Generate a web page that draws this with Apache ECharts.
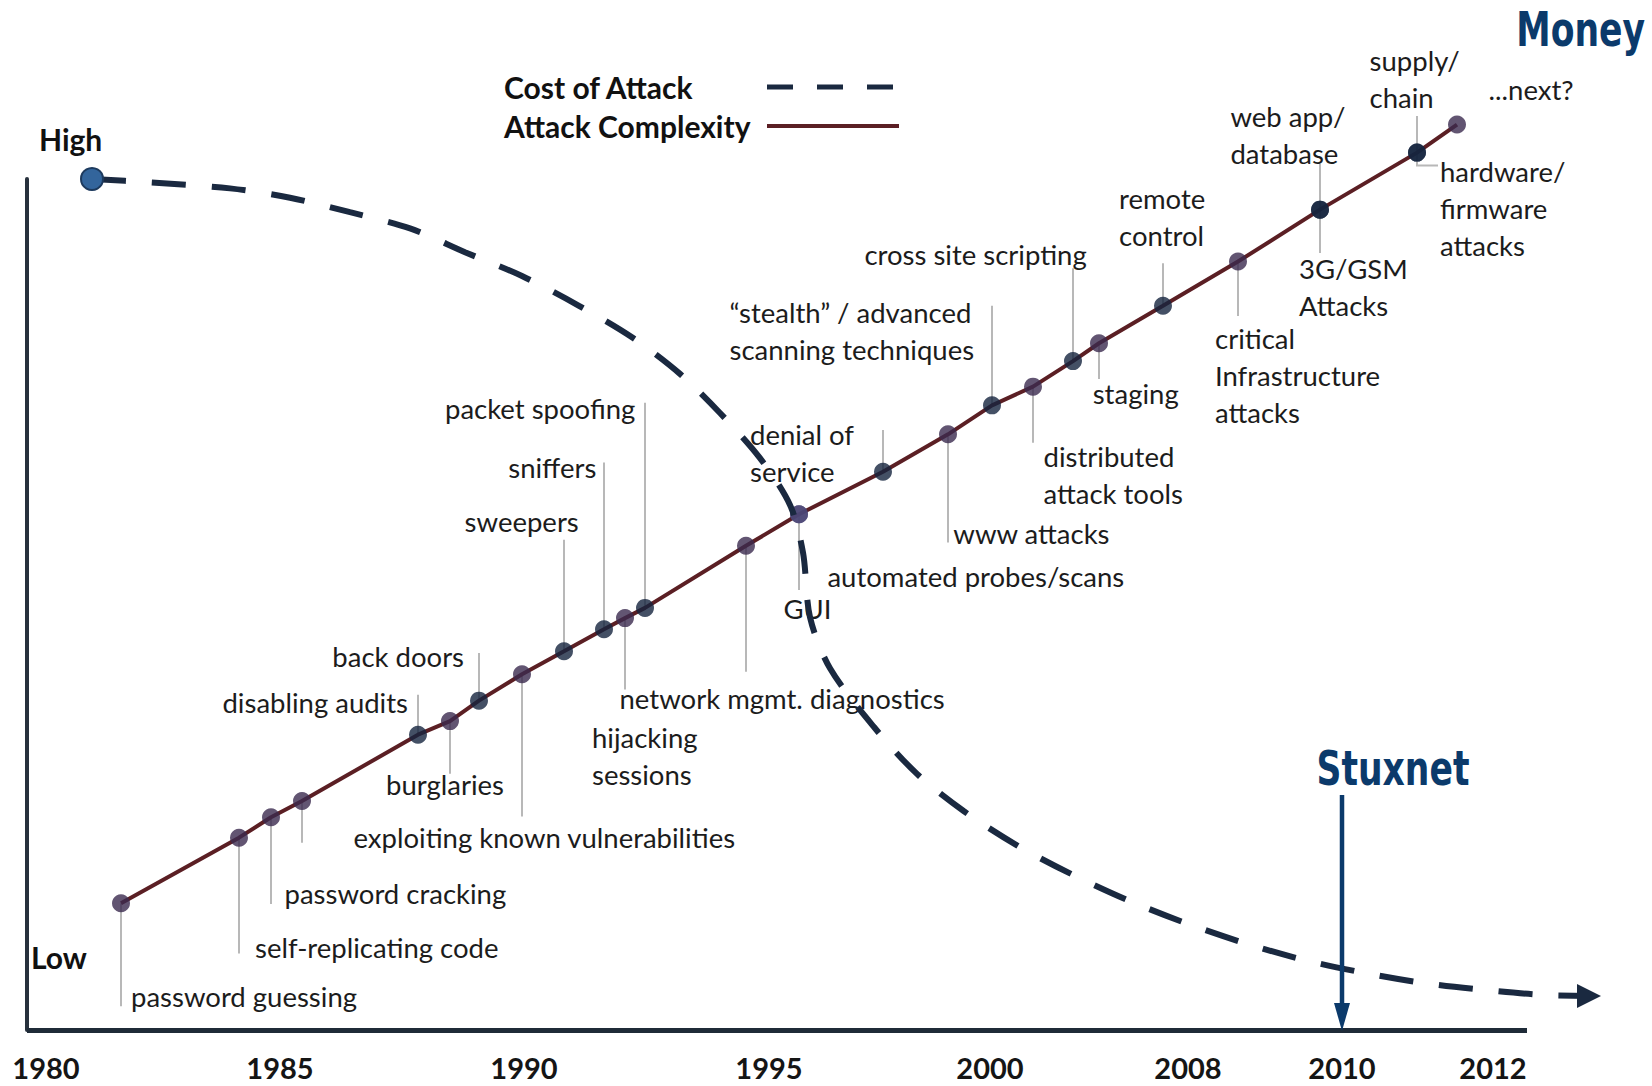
<!DOCTYPE html>
<html>
<head>
<meta charset="utf-8">
<title>Cost of Attack vs. Attack Complexity</title>
<script src="https://cdn.jsdelivr.net/npm/echarts@6/dist/echarts.min.js"></script>
<style>
  html, body { margin: 0; padding: 0; background: #ffffff; }
  #chart { width: 1652px; height: 1086px; }
</style>
</head>
<body>
<div id="chart"></div>
<script>
// Timeline axis: where each year sits along the horizontal axis, and its label
const tickYears = ['1980', '1985', '1990', '1995', '2000', '2008', '2010', '2012'];
const tickPos = [1.9, 25.3, 49.7, 74.2, 96.3, 116.1, 131.5, 146.6];
// visible extent of the time axis line
const axisExtent = [0, 150];

// Attack complexity milestones (timeline position, complexity level)
const eventNames = [
  'password guessing', 'self-replicating code', 'password cracking', '',
  'disabling audits', 'burglaries', 'back doors', 'exploiting known vulnerabilities',
  'sweepers', 'sniffers', 'hijacking\nsessions', 'packet spoofing',
  'network mgmt. diagnostics', 'GUI', 'automated probes/scans', 'denial of\nservice',
  'www attacks', '\u201cstealth\u201d / advanced\nscanning techniques', 'distributed\nattack tools',
  'cross site scripting', 'staging', 'remote\ncontrol', 'critical\nInfrastructure\nattacks',
  'web app/\ndatabase', '3G/GSM\nAttacks', 'supply/\nchain', 'hardware/\nfirmware\nattacks', '...next?'
];
const eventX = [9.4, 21.2, 24.4, 27.5, 39.1, 42.3, 45.2, 49.5, 53.7, 57.7, 59.8, 61.8, 71.9, 77.2,
  77.2, 85.6, 92.1, 96.5, 100.6, 104.6, 107.2, 113.6, 121.1, 129.3, 129.3, 139.0, 139.0, 143.0];
const eventY = [14.9, 22.6, 25.0, 26.9, 34.7, 36.3, 38.7, 41.8, 44.5, 47.1, 48.4, 49.6, 56.9, 60.6,
  60.6, 65.6, 70.0, 73.4, 75.6, 78.6, 80.7, 85.1, 90.3, 96.4, 96.4, 103.1, 103.1, 106.4];

// Cost of attack trend
const costX = [6.5, 12.3, 20.3, 26.3, 32.3, 38.3, 43.8, 49.5, 55.2, 60.5, 65.3, 69.3, 73.3, 76.3,
  77.6, 78.3, 80.3, 84.7, 89.0, 93.7, 99.0, 104.3, 110.0, 115.8, 121.8, 127.8, 133.8, 139.8, 145.8, 151.8, 156.2];
const costY = [100.0, 99.6, 98.9, 97.8, 96.1, 94.2, 91.4, 88.6, 85.1, 81.4, 77.1, 72.5, 67.2, 61.7,
  56.1, 48.5, 42.5, 35.6, 30.1, 25.7, 21.7, 18.4, 15.3, 12.6, 10.2, 8.2, 6.7, 5.5, 4.7, 4.1, 4.0];

// Stuxnet marker on the timeline
const stuxnetX = [131.5];
const stuxnetTop = [27.6];

// ---- annotation layout (callout leaders and label placement) ----
const leaderEndY = [2.8, 9.0, 14.8, 22.0, 39.4, 30.1, 44.3, 25.1, 57.6, 66.7, 40.0, 73.7, 42.1, 51.7,
  null, 70.5, 57.3, 85.1, 69.0, 89.5, 76.5, 90.1, 83.9, 101.8, 91.3, 107.4, 101.6, null];
const leaderElbowX = { 26: 141.1 };
// [dx, dy of first text line centre, align] relative to the leader end (or the marker)
const labelPlace = [
  [10, -10, 'left'], [16, -5.5, 'left'], [13.5, -11, 'left'], null,
  [-10, 8, 'right'], [-5, 11, 'center'], [-15, 3, 'right'], [-168.5, 21.5, 'left'],
  [-99.4, -18.5, 'left'], [-7.7, 5, 'right'], [-33, 47.5, 'left'], [-9.7, 6, 'right'],
  [-126.5, 26.5, 'left'], [8.4, 18, 'center'], [28.4, 61.8, 'left'], [-133, 4, 'left'],
  [5.3, -8.6, 'left'], [-262.5, 6.4, 'left'], [10.5, 13.5, 'left'], [-208.6, -13.7, 'left'],
  [-6.3, 14.7, 'left'], [-44, -64.4, 'left'], [-23, 22, 'left'], [-89.6, -47.4, 'left'],
  [-21, 15.8, 'left'], [-47.4, -55.9, 'left'], [2, 6.3, 'left'], [31.6, -34.7, 'left']
];
const markerTone = ['p', 'p', 'p', 'p', 'n', 'p', 'n', 'p', 'n', 'n', 'p', 'n', 'p', 'g',
  'g', 'n', 'p', 'n', 'p', 'n', 'p', 'n', 'p', 'n', 'n', 'n', 'n', 'p'];
const toneColor = { p: '#3b2a4f', n: '#15243f', g: '#4b4676' };

const LABEL_FONT = 'Lato, "Open Sans", sans-serif';
const LABEL_SIZE = 27.5;
const LINE_H = 37;
const NARROW = '"Liberation Sans Narrow", "DejaVu Sans Condensed", "Liberation Sans", sans-serif';
const NAVY = '#0b3a6b';

const chart = echarts.init(document.getElementById('chart'), null, { renderer: 'svg' });

const eventRows = eventX.map((x, i) => [x, eventY[i], i]);

const costData = costX.map((x, i) => {
  const item = { value: [x, costY[i]] };
  if (i === 0) {
    item.symbol = 'circle';
    item.symbolSize = 22;
    item.itemStyle = { color: '#33659c', borderColor: '#1d3a5e', borderWidth: 2 };
  } else if (i === costX.length - 1) {
    item.symbol = 'triangle';
    item.symbolSize = [24, 24];
    item.symbolRotate = -90;
    item.itemStyle = { color: '#1a2940' };
  }
  return item;
});

const option = {
  backgroundColor: '#ffffff',
  animation: false,
  graphic: [
    {
      type: 'text',
      x: 1645,
      y: 29,
      scaleX: 0.8,
      silent: true,
      style: { text: 'Money', fill: NAVY, fontSize: 48, fontWeight: 'bold', fontFamily: NARROW, align: 'right', verticalAlign: 'middle' }
    }
  ],
  legend: {
    orient: 'vertical',
    align: 'right',
    left: 504,
    top: 72,
    padding: 0,
    itemGap: 9,
    itemWidth: 132,
    itemHeight: 14,
    selectedMode: false,
    formatter: (n) => '{t|' + n + '}',
    textStyle: {
      rich: {
        t: { width: 258, align: 'left', fontSize: 30, fontWeight: 'bold', fontFamily: LABEL_FONT, color: '#111111', lineHeight: 33 }
      }
    },
    itemStyle: { opacity: 0 },
    data: [
      { name: 'Cost of Attack', lineStyle: { type: [26, 24], width: 5, color: '#1a2940' } },
      { name: 'Attack Complexity', lineStyle: { type: 'solid', width: 4, color: '#5b1f24' } }
    ]
  },
  // the plot area runs a little past the end of the time axis so the trend arrow is not cut
  grid: { left: 27, right: 42, top: 179, bottom: 56, containLabel: false, outerBoundsMode: 'none' },
  xAxis: {
    type: 'value',
    min: 0,
    max: 158.3,
    axisLine: { show: false },
    axisTick: { show: false },
    splitLine: { show: false },
    axisLabel: {
      customValues: tickPos,
      formatter: (v) => tickYears[tickPos.indexOf(v)] || '',
      margin: 23,
      fontSize: 29,
      fontWeight: 'bold',
      fontFamily: LABEL_FONT,
      color: '#151515'
    }
  },
  yAxis: {
    type: 'value',
    min: 0,
    max: 100,
    name: 'High',
    nameLocation: 'end',
    nameGap: 40,
    nameTextStyle: { fontSize: 30, fontWeight: 'bold', fontFamily: LABEL_FONT, color: '#111111', align: 'left', verticalAlign: 'middle', padding: [0, 0, 0, 12] },
    axisLine: { show: true, lineStyle: { color: '#27313d', width: 4 } },
    axisTick: { show: false },
    splitLine: { show: false },
    axisLabel: {
      customValues: [8.6],
      formatter: () => 'Low',
      inside: true,
      margin: 4,
      fontSize: 30,
      fontWeight: 'bold',
      fontFamily: LABEL_FONT,
      color: '#111111'
    }
  },
  series: [
    {
      // callout leaders and milestone labels
      type: 'custom',
      z: 1,
      silent: true,
      clip: false,
      data: eventRows,
      encode: { x: 0, y: 1 },
      renderItem: (params, api) => {
        const i = api.value(2);
        const x = api.value(0);
        const p = api.coord([x, api.value(1)]);
        const children = [];
        let anchor = p;
        const endY = leaderEndY[i];
        if (endY != null) {
          const e = api.coord([x, endY]);
          if (leaderElbowX[i] != null) {
            const ex = api.coord([leaderElbowX[i], endY]);
            children.push({ type: 'polyline', shape: { points: [p, e, ex] }, style: { stroke: '#b8b8b8', lineWidth: 2, fill: null } });
            anchor = ex;
          } else {
            children.push({ type: 'line', shape: { x1: p[0], y1: p[1], x2: e[0], y2: e[1] }, style: { stroke: '#b8b8b8', lineWidth: 2 } });
            anchor = e;
          }
        }
        const place = labelPlace[i];
        if (place && eventNames[i]) {
          children.push({
            type: 'text',
            x: anchor[0] + place[0],
            y: anchor[1] + place[1] - LINE_H / 2,
            style: {
              text: eventNames[i],
              fill: '#1c1c1c',
              fontSize: LABEL_SIZE,
              fontFamily: LABEL_FONT,
              lineHeight: LINE_H,
              align: place[2],
              verticalAlign: 'top'
            }
          });
        }
        return { type: 'group', children: children };
      }
    },
    {
      name: 'Attack Complexity',
      type: 'line',
      z: 2,
      clip: false,
      symbol: 'none',
      data: eventRows.map((r) => [r[0], r[1]]),
      lineStyle: { color: '#5b1f24', width: 4 },
      // time axis baseline, drawn across the axis extent only
      markLine: {
        silent: true,
        symbol: 'none',
        label: { show: false },
        lineStyle: { color: '#1f2b38', width: 5, type: 'solid' },
        data: [[{ coord: [axisExtent[0], 0] }, { coord: [axisExtent[1], 0] }]]
      }
    },
    {
      // milestone markers
      type: 'scatter',
      z: 3,
      clip: false,
      symbolSize: 18,
      data: eventRows.map((r) => ({ value: [r[0], r[1]], itemStyle: { color: toneColor[markerTone[r[2]]] } }))
    },
    {
      name: 'Cost of Attack',
      type: 'line',
      z: 4,
      clip: false,
      smooth: 0.3,
      symbol: 'none',
      showSymbol: true,
      data: costData,
      lineStyle: { color: '#1a2940', width: 6, type: [34, 26] }
    },
    {
      // Stuxnet call-out arrow
      type: 'custom',
      z: 5,
      silent: true,
      clip: false,
      data: stuxnetX.map((x, i) => [x, stuxnetTop[i]]),
      encode: { x: 0, y: 1 },
      renderItem: (params, api) => {
        const x = api.value(0);
        const top = api.coord([x, api.value(1)]);
        const base = api.coord([x, 0]);
        return {
          type: 'group',
          children: [
            { type: 'line', shape: { x1: top[0], y1: top[1], x2: base[0], y2: base[1] - 24 }, style: { stroke: NAVY, lineWidth: 4.5 } },
            { type: 'polygon', shape: { points: [[base[0], base[1] + 1], [base[0] - 8, base[1] - 27], [base[0] + 8, base[1] - 27]] }, style: { fill: NAVY } },
            {
              type: 'text', x: top[0] + 51, y: top[1] - 27, scaleX: 0.8,
              style: { text: 'Stuxnet', fill: NAVY, fontSize: 48, fontWeight: 'bold', fontFamily: NARROW, align: 'center', verticalAlign: 'middle' }
            }
          ]
        };
      }
    }
  ]
};

chart.setOption(option);
</script>
</body>
</html>
